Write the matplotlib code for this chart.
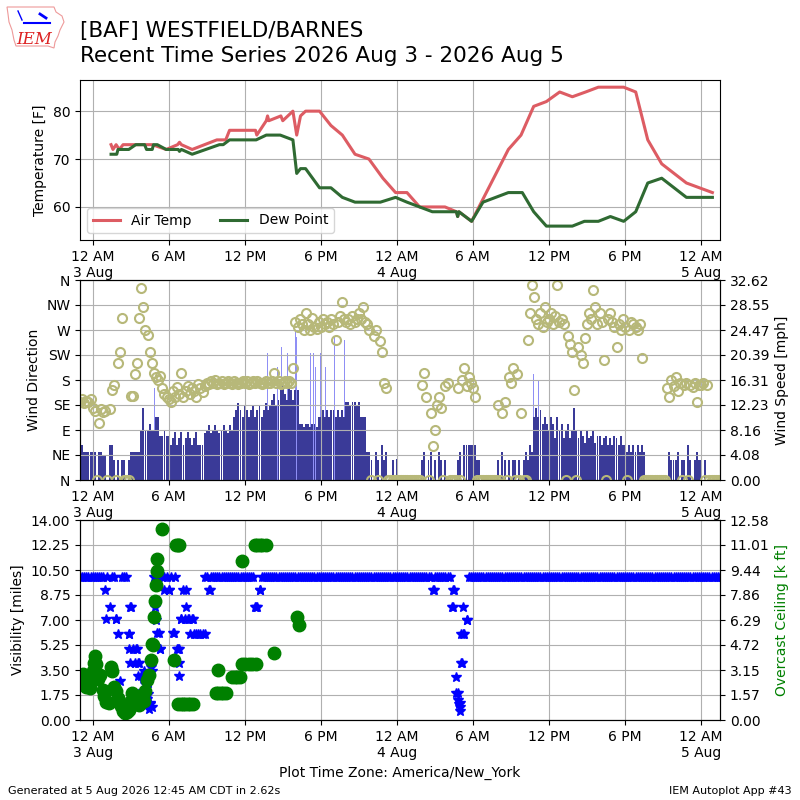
import numpy as np
import matplotlib
matplotlib.use("Agg")
import matplotlib.pyplot as plt
from matplotlib.patches import Polygon

# ---------------- data (hours since 3 Aug 2026 00:00, America/New_York) ----------------
temp_hours = [1.45, 1.6, 1.85, 2.1, 2.4, 3.0, 4.0, 4.7, 5.8, 6.7, 6.85, 7.0, 7.85, 9.8,
              10.5, 10.8, 12.85, 12.95, 13.7, 13.8, 13.9, 14.85, 15.0, 15.8, 16.1, 16.4,
              16.8, 17.9, 18.8, 19.7, 20.7, 21.8, 22.9, 23.9, 24.8, 25.8, 27.8, 28.7,
              28.8, 28.9, 29.9, 32.8, 33.8, 34.8, 35.8, 36.85, 37.85, 38.9, 39.9, 41.9,
              42.85, 43.8, 44.9, 46.85, 48.9]
temp_f = [73, 72, 73, 72, 73, 73, 73, 73, 72, 73, 73.5, 73, 72, 74,
          74, 76, 76, 75, 78, 79, 78, 79, 78, 80, 75, 79,
          80, 80, 77, 75, 71, 70, 66, 63, 63, 60, 60, 59,
          58, 59, 57, 72, 75, 81, 82, 84, 83, 84, 85, 85,
          84, 74, 69, 65, 63]

dewp_hours = [1.45, 1.9, 2.0, 2.85, 3.4, 4.1, 4.25, 4.7, 4.8, 5.1, 5.8, 6.75, 6.85, 7.0,
              7.85, 10.0, 10.3, 10.8, 12.9, 13.7, 14.8, 15.8, 16.1, 16.4, 16.8, 17.9,
              18.8, 19.7, 20.7, 22.7, 23.9, 24.8, 25.8, 26.8, 28.7, 28.8, 28.9, 29.9,
              30.8, 32.8, 33.9, 34.8, 35.8, 37.85, 38.8, 39.9, 40.85, 41.9, 42.85, 43.8,
              44.9, 46.85, 48.9]
dewp_f = [71, 71, 72, 72, 73, 73, 72, 72, 73, 73, 72, 72, 71.6, 72,
          71, 73, 73, 74, 74, 75, 75, 74, 67, 68, 68, 64,
          64, 62, 61, 61, 62, 61, 60, 59, 59, 58, 59, 57,
          61, 63, 63, 59, 56, 56, 57, 57, 58, 57, 59, 65,
          66, 62, 62]

# 10-minute observations, first one at 2 Aug 23:00 (one row per hour)
obs_start_hour = -1.0
wind_speed_mph = [
    5.7, 5.7, 4.6, 4.6, 4.6, 4.6,
    4.6, 4.6, 0.0, 4.6, 4.6, 4.1,
    4.1, 0.0, 5.7, 5.7, 3.3, 0.0,
    3.3, 0.0, 3.3, 3.3, 0.0, 3.3,
    4.6, 4.6, 4.6, 4.6, 4.6, 8.2,
    11.7, 8.2, 8.2, 9.2, 8.2, 8.2,
    10.3, 10.3, 7.1, 7.1, 8.2, 7.1,
    7.1, 5.7, 6.8, 7.9, 5.7, 6.8,
    7.9, 5.7, 6.8, 7.9, 6.8, 5.7,
    6.8, 7.9, 5.7, 5.7, 5.7, 7.6,
    8.2, 9.0, 7.6, 8.2, 9.0, 8.2,
    7.6, 8.2, 9.0, 8.2, 7.6, 9.0,
    8.2, 10.3, 11.4, 12.5, 11.4, 10.3,
    12.0, 11.4, 10.3, 11.4, 12.0, 10.3,
    11.4, 12.0, 10.3, 11.4, 12.5, 11.4,
    12.0, 13.0, 14.1, 12.0, 13.0, 14.7,
    15.8, 14.1, 13.0, 15.2, 14.7, 13.0,
    14.7, 14.7, 9.2, 9.2, 8.6, 9.2,
    9.2, 8.6, 9.2, 9.2, 8.6, 10.3,
    10.3, 11.4, 10.3, 11.4, 10.3, 11.4,
    11.4, 10.3, 11.4, 10.3, 11.4, 10.3,
    12.8, 12.8, 12.0, 12.8, 12.8, 12.0,
    12.8, 10.3, 10.3, 10.3, 4.6, 4.6,
    3.3, 0.0, 4.6, 3.3, 0.0, 5.7,
    3.3, 4.6, 0.0, 0.0, 3.3, 0.0,
    3.4, 0.0, 0.0, 0.0, 0.0, 0.0,
    0.0, 0.0, 0.0, 0.0, 0.0, 0.0,
    3.3, 4.6, 0.0, 3.3, 4.6, 0.0,
    3.3, 0.0, 4.6, 3.3, 0.0, 3.3,
    0.0, 0.0, 0.0, 0.0, 0.0, 3.3,
    4.6, 0.0, 5.7, 5.7, 5.7, 5.7,
    5.7, 5.7, 3.3, 3.3, 0.0, 0.0,
    0.0, 0.0, 0.0, 0.0, 0.0, 0.0,
    3.3, 0.0, 4.6, 3.3, 0.0, 3.3,
    0.0, 3.3, 3.3, 0.0, 3.3, 0.0,
    3.3, 4.6, 3.3, 5.7, 4.6, 10.3,
    11.7, 10.3, 11.4, 9.2, 10.3, 9.2,
    8.2, 10.3, 9.2, 6.8, 10.3, 8.2,
    9.2, 6.8, 8.2, 9.2, 6.8, 8.2,
    11.7, 8.2, 6.8, 8.2, 7.1, 6.0,
    8.2, 6.8, 7.1, 8.2, 6.0, 7.1,
    7.1, 5.7, 6.8, 7.1, 5.7, 6.8,
    5.7, 7.1, 6.8, 5.7, 7.1, 5.7,
    5.7, 4.6, 5.7, 4.6, 5.7, 4.6,
    5.7, 4.6, 5.7, 4.6, 0.0, 0.0,
    0.0, 0.0, 0.0, 0.0, 0.0, 0.0,
    0.0, 0.0, 0.0, 4.6, 3.3, 3.3,
    3.3, 4.6, 0.0, 3.3, 3.3, 0.0,
    5.7, 3.3, 0.0, 3.3, 4.6, 3.3,
    3.3, 0.0, 3.3, 0.0, 0.0, 0.0,
    0.0, 0.0, 0.0, 0.0, 0.0, 0.0,
]

wind_dir_deg = [
    140, 145, 138, 142, 140, 145,
    130, 125, 0, 102, 128, 122,
    125, 0, 128, 162, 171, 0,
    210, 231, 291, 0, 0, 0,
    151, 151, 191, 211, 291, 345,
    312, 270, 261, 231, 210, 192,
    185, 180, 188, 165, 155, 150,
    145, 141, 160, 150, 168, 155,
    192, 150, 160, 170, 155, 165,
    160, 150, 172, 165, 158, 170,
    175, 172, 178, 175, 180, 172,
    175, 178, 172, 175, 178, 175,
    172, 178, 175, 172, 175, 178,
    175, 178, 172, 175, 178, 175,
    178, 175, 172, 175, 178, 175,
    175, 178, 192, 175, 178, 172,
    175, 178, 175, 178, 175, 201,
    285, 275, 290, 280, 270, 301,
    280, 270, 291, 275, 272, 285,
    275, 290, 280, 285, 275, 290,
    280, 252, 285, 295, 321, 290,
    285, 290, 280, 295, 285, 290,
    300, 290, 311, 285, 280, 270,
    0, 260, 270, 0, 250, 231,
    175, 165, 0, 0, 0, 0,
    0, 0, 0, 0, 0, 0,
    0, 0, 0, 0, 0, 0,
    171, 192, 150, 0, 120, 61,
    90, 135, 150, 129, 0, 170,
    175, 0, 0, 0, 0, 165,
    0, 180, 201, 170, 185, 175,
    165, 150, 0, 0, 0, 0,
    0, 0, 0, 0, 0, 0,
    135, 0, 120, 141, 0, 185,
    175, 201, 0, 190, 0, 120,
    0, 0, 252, 300, 351, 330,
    290, 280, 300, 275, 312, 285,
    290, 300, 280, 295, 351, 285,
    290, 280, 0, 260, 245, 230,
    162, 0, 240, 225, 210, 255,
    280, 300, 290, 342, 312, 280,
    300, 285, 216, 0, 290, 300,
    285, 275, 240, 280, 270, 290,
    275, 0, 270, 285, 280, 275,
    270, 280, 219, 0, 0, 0,
    0, 0, 0, 0, 0, 0,
    0, 0, 165, 150, 180, 170,
    186, 160, 175, 0, 171, 175,
    0, 171, 168, 175, 141, 171,
    171, 175, 0, 171, 0, 0,
    0, 0, 0, 0, 0, 0,
]

gust_hours = [4.9, 13.8, 14.6, 14.9, 15.4, 16.0, 16.1, 17.2, 17.4, 17.6, 18.0, 18.4,
              19.1, 19.2, 19.9, 34.8, 35.2]
gust_mph = [15.0, 20.7, 18.5, 21.7, 20.7, 24.5, 23.4, 20.7, 20.7, 18.5, 20.7, 18.5,
            23.4, 24.5, 22.8, 17.3, 16.3]

vis_miles = [
    10, 10, 10, 10, 10, 10,
    10, 10, 10, 10, 10, 10,
    9.1, 10, 7.9, 10, 10, 7.1,
    6.0, 2.7, 10, 10, 10, 6.0,
    7.9, 5.0, 4.0, 5.0, 4.0, 3.1,
    3.0, 2.5, 1.8, 1.2, 0.9, 10,
    10, 10, 5.0, 10, 10, 10,
    9.1, 10, 6.1, 10, 5.0, 5.0,
    7.1, 9.1, 7.9, 7.1, 6.0, 7.1,
    6.0, 6.0, 6.0, 6.0, 6.0, 10,
    10, 9.1, 10, 10, 10, 10,
    10, 10, 10, 10, 10, 10,
    10, 10, 10, 10, 10, 10,
    10, 10, 10, 10, 10, 7.9,
    7.9, 9.1, 10, 10, 10, 10,
    10, 10, 10, 10, 10, 10,
    10, 10, 10, 10, 10, 10,
    10, 10, 10, 10, 10, 10,
    10, 10, 10, 10, 10, 10,
    10, 10, 10, 10, 10, 10,
    10, 10, 10, 10, 10, 10,
    10, 10, 10, 10, 10, 10,
    10, 10, 10, 10, 10, 10,
    10, 10, 10, 10, 10, 10,
    10, 10, 10, 10, 10, 10,
    10, 10, 10, 10, 10, 10,
    10, 10, 10, 10, 10, 10,
    10, 10, 10, 10, 10, 9.1,
    10, 10, 10, 10, 10, 10,
    10, 10, 7.9, 9.1, 3.0, 1.9,
    1.2, 4.0, 6.0, 7.0, 10, 10,
    10, 10, 10, 10, 10, 10,
    10, 10, 10, 10, 10, 10,
    10, 10, 10, 10, 10, 10,
    10, 10, 10, 10, 10, 10,
    10, 10, 10, 10, 10, 10,
    10, 10, 10, 10, 10, 10,
    10, 10, 10, 10, 10, 10,
    10, 10, 10, 10, 10, 10,
    10, 10, 10, 10, 10, 10,
    10, 10, 10, 10, 10, 10,
    10, 10, 10, 10, 10, 10,
    10, 10, 10, 10, 10, 10,
    10, 10, 10, 10, 10, 10,
    10, 10, 10, 10, 10, 10,
    10, 10, 10, 10, 10, 10,
    10, 10, 10, 10, 10, 10,
    10, 10, 10, 10, 10, 10,
    10, 10, 10, 10, 10, 10,
    10, 10, 10, 10, 10, 10,
    10, 10, 10, 10, 10, 10,
]

vis_extra_hours = [1.05, 1.85, 2.85, 2.95, 2.9, 2.95, 3.45, 3.55, 3.6, 3.95, 4.05, 4.25,
                   4.4, 4.45, 4.55, 4.6, 4.7, 4.95, 5.0, 5.05, 5.25, 5.3, 5.65, 6.0,
                   6.45, 6.75, 6.85, 6.85, 7.0, 7.3, 7.4, 7.6, 7.9, 8.9, 9.25, 12.9,
                   13.2, 26.9, 28.45, 28.4, 29.2, 29.5, 29.05, 29.25, 28.7, 28.8, 28.9,
                   29.0, 29.0, 29.1]
vis_extra_miles = [7.1, 7.1, 6.0, 7.9, 5.0, 4.0, 5.0, 4.0, 3.1, 2.0, 3.4, 1.5,
                   2.6, 0.8, 1.1, 3.7, 3.4, 7.9, 7.0, 6.1, 6.1, 5.0, 9.1, 9.1,
                   6.1, 5.0, 4.0, 3.1, 7.1, 7.1, 9.1, 7.1, 7.1, 6.0, 9.1, 7.9,
                   9.1, 9.1, 9.1, 7.9, 7.9, 7.0, 6.0, 6.0, 1.9, 1.4, 1.1,
                   0.9, 0.6, 4.0]

ceiling_hours = [-0.95, -0.8, -0.65, -0.5, -0.35, -0.2, -0.1, 0.0, 0.1, 0.2, 0.3, 0.45,
                 0.6, 0.8, 0.9, 1.05, 1.3, 1.45, 1.55, 1.7, 1.85, 2.0, 2.1, 2.2, 2.4,
                 2.55, 2.7, 2.85, 3.0, 3.1, 3.25, 3.4, 3.55, 3.65, 3.8, 3.9, 4.05, 4.15,
                 4.3, 4.45, 4.6, 4.7, 4.75, 4.85, 4.95, 5.0, 5.05, 5.1, 5.45, 6.4, 6.6,
                 6.7, 6.85, 6.75, 6.95, 7.1, 7.3, 7.5, 7.7, 7.9, 9.85, 9.7, 9.9, 10.1,
                 10.3, 10.5, 11.0, 11.2, 11.4, 11.6, 11.8, 11.75, 12.0, 12.3, 12.6, 12.9,
                 12.8, 13.0, 13.2, 13.4, 13.7, 14.3, 16.15, 16.25]
ceiling_kft = [2.3, 2.9, 2.5, 2.1, 2.5, 2.0, 2.8, 3.1, 3.6, 4.0, 3.5, 2.6,
               2.8, 1.9, 1.5, 1.15, 1.05, 3.35, 3.1, 2.1, 1.8, 1.4, 1.2, 0.85, 0.55,
               0.45, 0.5, 0.6, 1.2, 1.7, 1.5, 1.0, 1.3, 0.95, 1.3, 1.6, 1.2, 1.8,
               2.5, 2.8, 3.8, 4.8, 4.7, 6.5, 7.5, 8.5, 9.4, 10.1, 12.0, 3.8, 11.0,
               11.0, 11.0, 1.0, 1.0, 1.0, 1.0, 1.0, 1.0, 1.0, 3.15, 1.7, 1.7, 1.7,
               1.7, 1.7, 2.7, 2.7, 2.7, 2.7, 10.0, 3.5, 3.5, 3.5, 3.5, 3.5,
               11.0, 11.0, 11.0, 11.0, 11.0, 4.2, 6.5, 6.0]

tick_hours = [0, 6, 12, 18, 24, 30, 36, 42, 48]
tick_labels = ["12 AM\n3 Aug", "6 AM", "12 PM", "6 PM", "12 AM\n4 Aug",
               "6 AM", "12 PM", "6 PM", "12 AM\n5 Aug"]
dir_ticks = [0, 45, 90, 135, 180, 225, 270, 315, 360]
dir_labels = ["N", "NE", "E", "SE", "S", "SW", "W", "NW", "N"]
x_range = (-1.0, 49.5)
speed_max_mph = 32.625
vis_max_miles = 14.0
ceiling_max_kft = 12.58

# ---------------- figure ----------------
plt.rcParams['font.family'] = ['DejaVu Sans']
fig = plt.figure(figsize=(8, 8), dpi=100)

obs_hours = obs_start_hour + np.arange(len(wind_speed_mph)) / 6.0


def style_time_axis(ax):
    ax.set_xlim(*x_range)
    ax.set_xticks(tick_hours)
    ax.set_xticklabels(tick_labels)
    ax.grid(True, color='#b0b0b0', lw=0.8)


# Temperature panel
ax1 = fig.add_axes([0.1, 0.7, 0.8, 0.2])
ax1.plot(temp_hours, temp_f, color='#dd5c63', lw=2.2, label='Air Temp')
ax1.plot(dewp_hours, dewp_f, color='#2f6a32', lw=2.2, label='Dew Point')
ax1.set_ylim(53.1, 86.5)
ax1.set_yticks([60, 70, 80])
ax1.set_ylabel('Temperature [F]')
style_time_axis(ax1)
ax1.legend(loc='lower left', ncol=2)

# Wind panel
ax2 = fig.add_axes([0.1, 0.4, 0.8, 0.25])
ax2b = ax2.twinx()
ax2b.bar(gust_hours, gust_mph, width=0.07, color='#8f8ff5', lw=0)
ax2b.bar(obs_hours, wind_speed_mph, width=0.15, color='#3a3a98', lw=0)
ax2b.set_ylim(0, speed_max_mph)
spd_ticks = np.linspace(0, speed_max_mph, 9)
ax2b.set_yticks(spd_ticks)
ax2b.set_yticklabels(["%.2f" % t for t in spd_ticks])
ax2b.set_ylabel('Wind Speed [mph]')
ax2.set_zorder(ax2b.get_zorder() + 1)
ax2.patch.set_visible(False)
ax2.plot(obs_hours, wind_dir_deg, 'o', ls='none', mfc='none', mec='#b7b879',
         ms=6.5, mew=1.5)
ax2.set_ylim(0, 360)
ax2.set_yticks(dir_ticks)
ax2.set_yticklabels(dir_labels)
ax2.set_ylabel('Wind Direction')
style_time_axis(ax2)

# Visibility / ceiling panel
ax3 = fig.add_axes([0.1, 0.1, 0.8, 0.25])
ax3.plot(obs_hours, vis_miles, '*', ls='none', color='blue', ms=7)
ax3.plot(vis_extra_hours, vis_extra_miles, '*', ls='none', color='blue', ms=7)
ax3.set_ylim(0, vis_max_miles)
vis_ticks = np.linspace(0, vis_max_miles, 9)
ax3.set_yticks(vis_ticks)
ax3.set_yticklabels(["%.2f" % t for t in vis_ticks])
ax3.set_ylabel('Visibility [miles]')
style_time_axis(ax3)
ax3b = ax3.twinx()
ax3b.plot(ceiling_hours, ceiling_kft, 'o', ls='none', color='green', ms=9)
ax3b.set_ylim(0, ceiling_max_kft)
ceil_ticks = np.linspace(0, ceiling_max_kft, 9)
ax3b.set_yticks(ceil_ticks)
ax3b.set_yticklabels(["%.2f" % t for t in ceil_ticks])
ax3b.set_ylabel('Overcast Ceiling [k ft]', color='green')
ax3.set_xlabel('Plot Time Zone: America/New_York')

# Titles and footer
fig.text(0.1, 1 - 37 / 800, '[BAF] WESTFIELD/BARNES', fontsize=15.5, va='baseline')
fig.text(0.1, 1 - 62 / 800, 'Recent Time Series 2026 Aug 3 - 2026 Aug 5',
         fontsize=15.5, va='baseline')
fig.text(0.01, 0.008, 'Generated at 5 Aug 2026 12:45 AM CDT in 2.62s', fontsize=8)
fig.text(0.99, 0.008, 'IEM Autoplot App #43', fontsize=8, ha='right')

# simple IEM logo
outline = [(7, 7), (54, 7), (56, 12), (62, 16), (64, 22), (60, 30), (58, 36),
           (55, 42), (54, 48), (48, 46), (16, 46), (14, 40), (12, 30), (9, 22), (8, 14)]
fig.patches.append(Polygon([(x / 800, 1 - y / 800) for x, y in outline], closed=True,
                           fill=False, edgecolor='#ee9a9a', lw=0.8,
                           transform=fig.transFigure, figure=fig))
fig.lines.append(plt.Line2D([24 / 800, 50 / 800], [1 - 23 / 800, 1 - 23 / 800],
                            color='blue', lw=1.5, transform=fig.transFigure, figure=fig))
fig.lines.append(plt.Line2D([18 / 800, 22 / 800], [1 - 11 / 800, 1 - 20 / 800],
                            color='blue', lw=1.0, transform=fig.transFigure, figure=fig))
fig.lines.append(plt.Line2D([40 / 800, 46 / 800], [1 - 14 / 800, 1 - 18 / 800],
                            color='blue', lw=2.0, transform=fig.transFigure, figure=fig))
fig.text(16 / 800, 1 - 44 / 800, 'IEM', color='#dd2222', fontsize=12,
         family='DejaVu Serif', style='italic')

fig.savefig('out.png', dpi=100)
